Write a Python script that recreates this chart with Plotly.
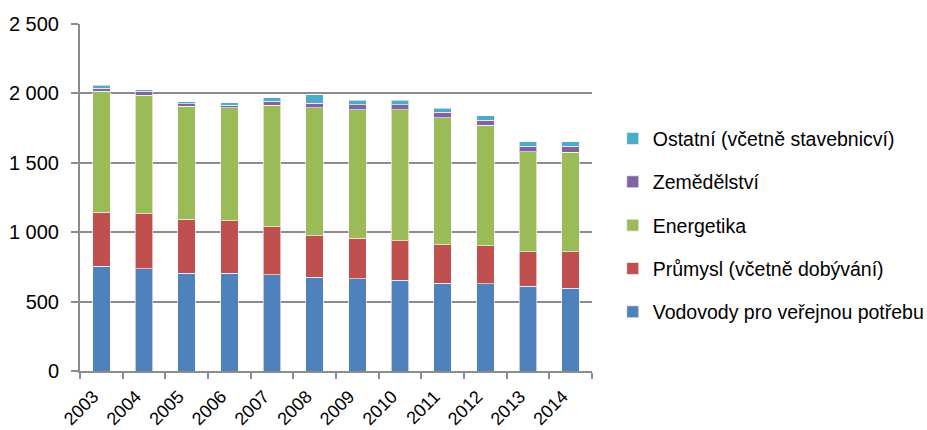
import plotly.graph_objects as go

years = ['2003', '2004', '2005', '2006', '2007', '2008', '2009', '2010', '2011', '2012', '2013', '2014']

vodovody = [754, 737, 704, 704, 694, 675, 665, 655, 632, 629, 612, 595]
prumysl = [388, 397, 390, 378, 346, 300, 292, 284, 278, 274, 248, 265]
energetika = [872, 853, 814, 814, 875, 923, 927, 945, 916, 866, 720, 715]
zemedelstvi = [24, 29, 19, 19, 29, 31, 36, 36, 38, 37, 38, 46]
ostatni = [19, 12, 14, 19, 24, 63, 29, 31, 29, 32, 32, 29]

y_ticks = [0, 500, 1000, 1500, 2000, 2500]
y_tick_text = ['0', '500', '1 000', '1 500', '2 000', '2 500']

series = [
    ('Vodovody pro veřejnou potřebu', vodovody, '#4F81BD'),
    ('Průmysl (včetně dobývání)', prumysl, '#C0504D'),
    ('Energetika', energetika, '#9BBB59'),
    ('Zemědělství', zemedelstvi, '#8064A2'),
    ('Ostatní (včetně stavebnicví)', ostatni, '#4BACC6'),
]

fig = go.Figure()
for i, (name, vals, color) in enumerate(series):
    fig.add_trace(go.Bar(
        x=years,
        y=vals,
        name=name,
        legendgroup=f'g{i}',
        legendrank=100 - i,
        marker=dict(color=color, line=dict(color='rgba(255,255,255,0.6)', width=1)),
    ))

axis_gray = '#8c8c8c'
font = 'Liberation Sans, Arial, sans-serif'

fig.update_layout(
    barmode='stack',
    bargap=0.59,
    width=927,
    height=430,
    margin=dict(l=80, r=335, t=24, b=59, autoexpand=False),
    paper_bgcolor='white',
    plot_bgcolor='white',
    font=dict(family=font, color='black'),
    legend=dict(
        xref='container', x=0.661, xanchor='left',
        y=0.42, yanchor='middle',
        traceorder='grouped',
        tracegroupgap=15,
        font=dict(size=19.5, family=font, color='black'),
    ),
)

fig.update_xaxes(
    type='category',
    tickangle=-45,
    tickfont=dict(size=18),
    ticklabelstandoff=6,
    ticklabelshift=-8,
    automargin=False,
    showline=True, linecolor=axis_gray, linewidth=2,
    ticks='outside', tickson='boundaries', ticklen=6, tickcolor=axis_gray, tickwidth=2,
    showgrid=False,
)
fig.update_yaxes(
    range=[0, 2500],
    tickvals=y_ticks,
    ticktext=y_tick_text,
    tickfont=dict(size=20),
    ticklabelstandoff=8,
    automargin=False,
    showline=True, linecolor=axis_gray, linewidth=2,
    ticks='outside', ticklen=7, tickcolor=axis_gray, tickwidth=2,
    showgrid=True, gridcolor=axis_gray, gridwidth=2,
    zeroline=False,
)

# page has a default body margin; drop it so the figure sits at the window corner
fig.write_html("out.html", config={'displayModeBar': False},
               post_script="document.body.style.margin='0';")
